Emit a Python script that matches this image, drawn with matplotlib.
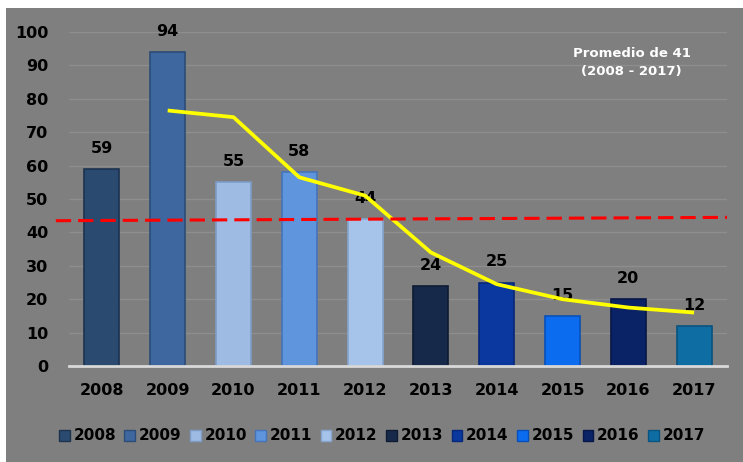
import matplotlib.pyplot as plt
from matplotlib.patches import Rectangle

years = ['2008', '2009', '2010', '2011', '2012', '2013', '2014', '2015', '2016', '2017']
values = [59, 94, 55, 58, 44, 24, 25, 15, 20, 12]
colors = ['#2b4a6f', '#3d679e', '#9dbbe3', '#5f95dc', '#a6c3ea',
          '#17294a', '#0a389f', '#0b6cf0', '#0a2367', '#0e6ea3']
edges = ['#1c3350', '#2b4c78', '#7d9cc6', '#4574b8', '#86a5cf',
         '#0e1b33', '#062878', '#0850b8', '#061748', '#0a5280']

# 2-period moving average (as drawn in the source)
trend_x = [1, 2, 3, 4, 5, 6, 7, 8, 9]
trend = [76.5, 74.5, 56.5, 51, 34, 24.5, 20, 17.5, 16]

# promedio reference line (drawn slightly sloped in the source)
avg_x = [-0.7, 9.5]
avg_y = [43.5, 44.5]

bg = '#7f7f7f'
font = 'DejaVu Sans'

fig = plt.figure(figsize=(7.43, 4.62), dpi=100)
fig.patch.set_facecolor('white')
fig.patches.append(Rectangle((6 / 743, 0), 1, 1 - 8 / 462, transform=fig.transFigure,
                             facecolor=bg, edgecolor='none', zorder=-10))

ax = fig.add_axes([69 / 743, 1 - 366 / 462, 658 / 743, 334 / 462])
ax.set_facecolor('none')

x = list(range(len(years)))
ax.bar(x, values, width=0.53, color=colors, edgecolor=edges, linewidth=1.2, zorder=3)

for xi, v in zip(x, values):
    ax.annotate(str(v), (xi, v), xytext=(0, 15), textcoords='offset points',
                ha='center', va='center', fontsize=11.5, fontweight='bold',
                color='black', family=font, zorder=5)

ax.plot(trend_x, trend, color='#ffff00', lw=2.7, zorder=6, solid_capstyle='butt')
ax.plot(avg_x, avg_y, color='#ff0000', lw=2.2, dashes=(5, 2.3), zorder=7, clip_on=False)

ax.set_xlim(-0.5, 9.5)
ax.set_ylim(0, 100)
ax.set_yticks(range(0, 101, 10))
ax.set_xticks(x)
ax.set_xticklabels(years)
ax.yaxis.grid(True, color='#8e8e8e', lw=1.0, zorder=0)
ax.set_axisbelow(True)
for s in ['top', 'right', 'left']:
    ax.spines[s].set_visible(False)
ax.spines['bottom'].set_color('#d9d9d9')
ax.spines['bottom'].set_linewidth(2)
ax.spines['bottom'].set_zorder(4)
ax.tick_params(length=0, labelsize=11.5, labelcolor='black')
ax.tick_params(axis='y', pad=15)
ax.tick_params(axis='x', pad=12)
for lbl in ax.get_xticklabels() + ax.get_yticklabels():
    lbl.set_fontweight('bold')
    lbl.set_family(font)

ax.text(0.855, 0.955, 'Promedio de 41\n(2008 - 2017)', transform=ax.transAxes,
        ha='center', va='top', color='white', fontsize=9.5, fontweight='bold',
        family=font, linespacing=1.45)

handles = [Rectangle((0, 0), 1, 1, facecolor=c, edgecolor=e) for c, e in zip(colors, edges)]
leg = fig.legend(handles, years, loc='center', bbox_to_anchor=(382 / 743, 1 - 436 / 462),
                 ncol=10, frameon=False, handlelength=0.7, handleheight=0.7,
                 handletextpad=0.25, columnspacing=0.55,
                 prop={'family': font, 'weight': 'bold', 'size': 11})

fig.savefig('out.png', dpi=100, facecolor=fig.get_facecolor())
